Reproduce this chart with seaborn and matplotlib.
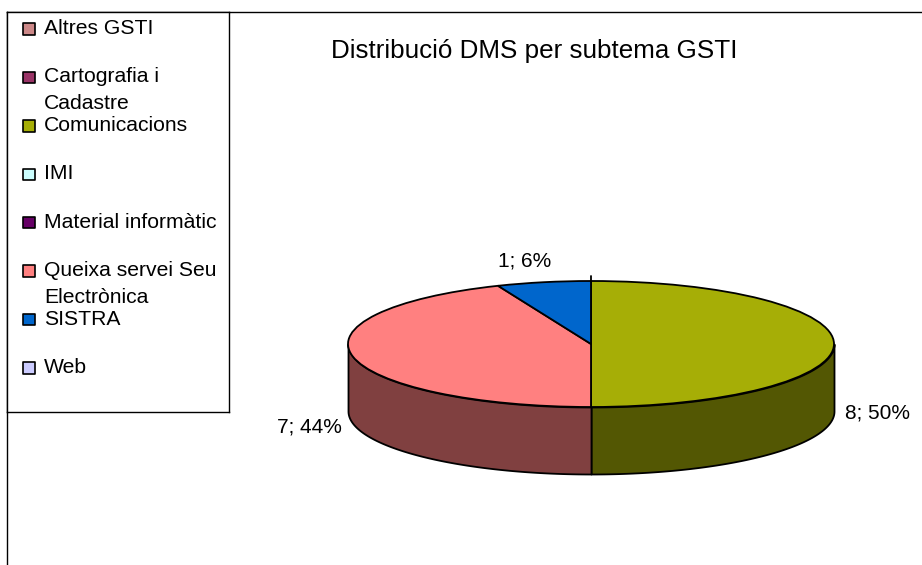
import numpy as np
import pandas as pd
import seaborn as sns
import matplotlib.pyplot as plt
from matplotlib.colors import to_rgb

categories = ['Altres GSTI', 'Cartografia i\nCadastre', 'Comunicacions', 'IMI',
              'Material informàtic', 'Queixa servei Seu\nElectrònica', 'SISTRA', 'Web']
counts = [0, 0, 8, 0, 0, 7, 1, 0]
colors = ['#CC8888', '#993366', '#A6AE06', '#CCFFFF', '#660066', '#FF8080', '#0066CC', '#CCCCFF']
title = 'Distribució DMS per subtema GSTI'

W, H = 922, 565


def px_rect(x0, y0, x1, y1):
    # pixel box (y from the top) to figure fractions
    return [x0 / W, 1 - y1 / H, (x1 - x0) / W, (y1 - y0) / H]


sns.set_theme(style='white')
plt.rcParams['font.family'] = ['Liberation Sans', 'DejaVu Sans']

fig = plt.figure(figsize=(W / 100, H / 100), dpi=100)

# outer chart border, only top and left are in the picture
frame = fig.add_axes(px_rect(7, 12, W, H))
frame.set_xticks([])
frame.set_yticks([])
for side in ['right', 'bottom']:
    frame.spines[side].set_visible(False)
for side in ['top', 'left']:
    frame.spines[side].set_color('black')
    frame.spines[side].set_linewidth(1.0)

fig.text(534 / W, 1 - 51 / H, title, fontsize=18.7, color='black', ha='center', va='center')

# legend
legend_df = pd.DataFrame({'name': categories, 'row': range(len(categories)), 'col': 0})
leg = fig.add_axes(px_rect(7, 12, 229, 412))
sns.scatterplot(data=legend_df, x='col', y='row', hue='name', palette=colors, marker='s',
                s=68, edgecolor='black', linewidth=1.2, legend=False, ax=leg)
leg.set_xlim(-22, 200)
leg.set_ylim(7.91, -0.35)
leg.set_xticks([])
leg.set_yticks([])
leg.set_xlabel('')
leg.set_ylabel('')
for spine in leg.spines.values():
    spine.set_color('black')
    spine.set_linewidth(1.0)
for i, name in enumerate(categories):
    leg.annotate(name, (0, i), xytext=(15, 10), textcoords='offset pixels', fontsize=15.2,
                 color='black', va='top', ha='left', linespacing=1.5,
                 annotation_clip=False)

# pie, squashed into an ellipse
depth = 67 / 63
ax = fig.add_axes(px_rect(348, 281, 834, 474))
shown = [(c, v) for c, v in zip(colors, counts) if v > 0]
shown_colors = [c for c, v in shown]
shown_values = [v for c, v in shown]

angles = 90 - np.cumsum([0] + shown_values) / sum(shown_values) * 360
for start, stop, col in zip(angles[:-1], angles[1:], shown_colors):
    lo, hi = max(stop, -180), min(start, 0)
    if lo >= hi:
        continue
    t = np.radians(np.linspace(lo, hi, 120))
    dark = tuple(0.5 * v for v in to_rgb(col))
    ax.fill_between(np.cos(t), np.sin(t), np.sin(t) - depth, color=dark, edgecolor='black',
                    linewidth=1.3, clip_on=False)

ax.pie(shown_values, colors=shown_colors, startangle=90, counterclock=False, radius=1,
       wedgeprops={'edgecolor': 'black', 'linewidth': 1.3, 'clip_on': False})
ax.set_aspect('auto')
ax.set_xlim(-1, 1)
ax.set_ylim(-1 - depth, 1)
ax.axis('off')
ax.plot([0, 0], [1, 1.08], color='black', lw=1.3, clip_on=False)

# data labels
label_pos = {2: (877, 413), 5: (309, 427), 6: (525, 261)}
total = sum(counts)
for idx, (x, y) in label_pos.items():
    fig.text(x / W, 1 - y / H, f'{counts[idx]}; {counts[idx] / total:.0%}', fontsize=15,
             color='black', ha='center', va='center')

fig.savefig('out.png', dpi=100)
